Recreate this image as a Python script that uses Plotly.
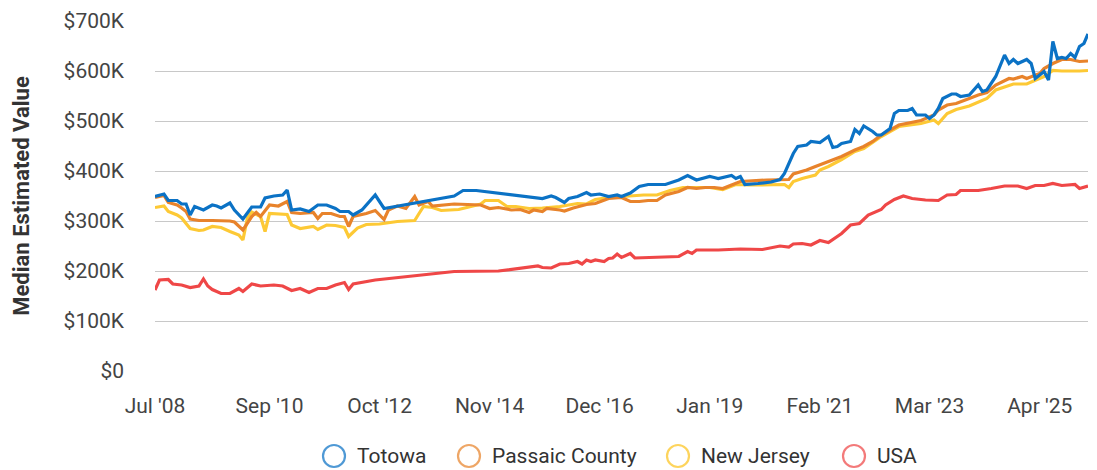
import plotly.graph_objects as go

totowa_dates = ["2008-07","2008-09","2008-10","2008-12","2009-01","2009-02","2009-03","2009-04","2009-06","2009-08",
"2009-09","2009-10","2009-12","2010-01","2010-03","2010-05","2010-07","2010-08","2010-10","2010-12",
"2011-01","2011-02","2011-04","2011-06","2011-08","2011-10","2011-12","2012-01","2012-03","2012-04",
"2012-06","2012-07","2012-09","2012-11","2013-02","2014-03","2014-05","2014-08","2015-11","2016-01",
"2016-02","2016-04","2016-05","2016-07","2016-09","2016-10","2016-12","2017-02","2017-04","2017-05",
"2017-07","2017-09","2017-11","2018-03","2018-06","2018-08","2018-10","2019-01","2019-02","2019-03",
"2019-06","2019-07","2019-08","2019-09","2019-12","2020-03","2020-05","2020-06","2020-08","2020-09",
"2020-11","2020-12","2021-02","2021-04","2021-05","2021-06","2021-07","2021-09","2021-10","2021-11",
"2021-12","2022-02","2022-03","2022-04","2022-06","2022-07","2022-08","2022-10","2022-11","2022-12",
"2023-02","2023-03","2023-04","2023-05","2023-06","2023-08","2023-09","2023-10","2023-12","2024-01",
"2024-02","2024-03","2024-04","2024-06","2024-08","2024-09","2024-10","2024-11","2025-01","2025-02",
"2025-03","2025-04","2025-05","2025-06","2025-07","2025-08","2025-09","2025-10","2025-11","2025-12",
"2026-01","2026-02","2026-03"]
totowa_values = [349,354,341,341,334,334,312,329,322,332,
330,326,336,322,304,328,328,346,350,352,
362,322,324,319,332,332,325,319,319,312,
322,332,352,325,330,350,361,361,345,350,
347,337,345,349,357,352,354,349,352,349,
356,369,373,373,382,391,382,389,387,385,
391,385,389,373,375,378,383,395,435,449,
452,459,457,469,447,449,455,459,483,475,
490,479,472,472,485,515,521,521,525,512,
512,505,512,525,545,554,554,549,552,562,
572,559,562,589,632,615,623,615,623,615,
585,592,599,582,659,625,627,625,635,627,
649,655,674]

passaic_dates = ["2008-07","2008-09","2008-10","2008-12","2009-01","2009-02","2009-03","2009-05","2009-08","2009-10",
"2009-12","2010-01","2010-02","2010-03","2010-05","2010-06","2010-07","2010-09","2010-11","2011-01",
"2011-02","2011-04","2011-07","2011-08","2011-09","2011-11","2012-01","2012-02","2012-03","2012-04",
"2012-07","2012-09","2012-11","2012-12","2013-02","2013-04","2013-06","2013-07","2013-09","2013-10",
"2014-03","2014-09","2014-11","2015-01","2015-04","2015-06","2015-08","2015-09","2015-11","2015-12",
"2016-03","2016-04","2016-06","2016-09","2016-11","2017-02","2017-05","2017-07","2017-09","2017-11",
"2018-01","2018-03","2018-06","2018-08","2018-10","2018-12","2019-02","2019-04","2019-06","2019-08",
"2020-02","2020-07","2020-08","2020-11","2021-01","2021-04","2021-07","2021-10","2021-12","2022-02",
"2022-04","2022-08","2022-10","2023-01","2023-04","2023-05","2023-07","2023-09","2023-12","2024-02",
"2024-04","2024-06","2024-09","2024-10","2024-12","2025-01","2025-04","2025-05","2025-07","2025-09",
"2025-11","2026-01","2026-03"]
passaic_values = [347,351,337,332,326,319,304,301,301,301,
300,298,289,282,309,317,309,332,330,339,
317,315,317,305,315,315,309,309,289,309,
315,321,303,322,330,325,349,332,339,330,
334,332,325,327,322,323,317,322,319,325,
322,320,326,333,335,345,347,339,339,341,
341,352,359,367,365,367,367,365,372,379,
382,383,394,402,409,419,429,442,449,459,
472,492,495,501,512,522,532,535,545,552,
557,572,585,584,589,585,595,605,615,623,
623,619,620]

nj_dates = ["2008-07","2008-09","2008-10","2008-12","2009-01","2009-03","2009-05","2009-06","2009-08","2009-10",
"2009-12","2010-02","2010-03","2010-04","2010-05","2010-07","2010-08","2010-09","2011-01","2011-02",
"2011-04","2011-07","2011-08","2011-10","2011-12","2012-02","2012-03","2012-05","2012-07","2012-10",
"2013-02","2013-06","2013-07","2013-08","2013-10","2013-12","2014-04","2014-09","2014-10","2015-01",
"2015-03","2015-05","2015-08","2015-11","2016-03","2016-07","2016-09","2016-11","2017-02","2017-07",
"2017-10","2018-01","2018-04","2018-07","2018-10","2019-01","2019-04","2019-07","2019-10","2020-06",
"2020-07","2020-08","2020-10","2021-01","2021-02","2021-04","2021-07","2021-10","2021-12","2022-02",
"2022-04","2022-08","2022-10","2023-01","2023-04","2023-05","2023-07","2023-09","2023-12","2024-02",
"2024-04","2024-06","2024-09","2024-10","2025-01","2025-03","2025-05","2025-07","2025-09","2026-01",
"2026-03"]
nj_values = [327,330,319,312,306,285,281,282,289,287,
279,272,262,306,318,309,279,315,313,292,
285,289,283,292,291,287,269,286,293,294,
299,301,315,329,327,321,323,334,341,341,
329,329,325,326,329,335,334,343,347,350,
352,352,361,367,367,367,363,373,372,373,
367,379,385,392,402,409,423,439,445,457,
469,489,492,495,502,495,515,523,530,537,
545,562,572,574,574,581,589,601,600,600,
601]

usa_dates = ["2008-07","2008-08","2008-10","2008-11","2009-01","2009-03","2009-05","2009-06","2009-07","2009-08",
"2009-10","2009-12","2010-02","2010-03","2010-05","2010-07","2010-10","2010-12","2011-02","2011-04",
"2011-06","2011-08","2011-10","2011-12","2012-02","2012-03","2012-04","2012-07","2012-09","2014-03",
"2015-01","2015-10","2015-11","2016-01","2016-03","2016-05","2016-07","2016-08","2016-09","2016-10",
"2016-11","2017-01","2017-02","2017-03","2017-04","2017-05","2017-07","2017-08","2018-06","2018-08",
"2018-09","2018-10","2019-03","2019-08","2020-01","2020-05","2020-07","2020-08","2020-10","2020-12",
"2021-02","2021-04","2021-07","2021-09","2021-11","2022-01","2022-04","2022-05","2022-07","2022-09",
"2022-11","2023-02","2023-04","2023-05","2023-07","2023-09","2023-10","2024-02","2024-05","2024-08",
"2024-11","2025-01","2025-03","2025-05","2025-07","2025-09","2025-12","2026-01","2026-03"]
usa_values = [162,182,183,174,172,167,170,184,170,163,
155,155,165,159,174,170,172,170,161,165,
157,165,165,172,177,163,174,179,182,199,
200,210,207,206,214,215,219,214,222,219,
222,219,225,226,234,227,235,226,229,239,
235,242,242,244,243,250,248,254,255,252,
261,257,275,292,295,312,323,332,343,350,
345,342,342,341,352,353,361,361,365,370,
370,365,371,371,375,371,373,365,370]

series_names = ["Totowa", "Passaic County", "New Jersey", "USA"]
series_colors = ["#0b72c5", "#e8832b", "#fdc935", "#ef4747"]
legend_colors = ["rgba(11,114,197,0.72)", "rgba(232,131,43,0.72)", "rgba(253,201,53,0.8)", "rgba(239,71,71,0.72)"]

tick_vals = ["2008-07-01", "2010-09-01", "2012-10-01", "2014-11-01", "2016-12-01",
             "2019-01-01", "2021-02-01", "2023-03-01", "2025-04-01"]
tick_text = ["Jul '08", "Sep '10", "Oct '12", "Nov '14", "Dec '16",
             "Jan '19", "Feb '21", "Mar '23", "Apr '25"]
y_tick_vals = [0, 100000, 200000, 300000, 400000, 500000, 600000, 700000]
y_tick_text = ["$0", "$100K", "$200K", "$300K", "$400K", "$500K", "$600K", "$700K"]

# page has an 8px body margin; size the figure to fill the rest of the window
OFF = 8
W, H = 1097 - OFF, 470 - OFF
ML, MR, MT, MB = 155 - OFF, 9, 21 - OFF, 99
PW, PH = W - ML - MR, H - MT - MB

fig = go.Figure()
all_dates = [totowa_dates, passaic_dates, nj_dates, usa_dates]
all_values = [totowa_values, passaic_values, nj_values, usa_values]
for i in [3, 2, 1, 0]:
    fig.add_trace(go.Scatter(
        x=[d + "-01" for d in all_dates[i]],
        y=[v * 1000 for v in all_values[i]],
        mode="lines", name=series_names[i], showlegend=False,
        line=dict(color=series_colors[i], width=3.2),
    ))

# custom legend (hollow circles + labels) below the plot, positions in page pixels
legend_circle_px = [334, 469, 678, 854]
legend_y_px = 456
for i, name in enumerate(series_names):
    xp = (legend_circle_px[i] - OFF - ML) / PW
    yp = (MT + PH - (legend_y_px - OFF)) / PH
    fig.add_shape(type="circle", xref="paper", yref="paper",
                  xsizemode="pixel", ysizemode="pixel", xanchor=xp, yanchor=yp,
                  x0=-11, x1=11, y0=-11, y1=11,
                  line=dict(color=legend_colors[i], width=2.2), fillcolor="rgba(0,0,0,0)")
    fig.add_annotation(text=name, xref="paper", yref="paper",
                       x=(legend_circle_px[i] + 21 - OFF - ML) / PW, y=yp,
                       xanchor="left", yanchor="middle", showarrow=False,
                       font=dict(size=21, color="#333"))

fig.update_layout(
    width=W, height=H,
    margin=dict(l=ML, r=MR, t=MT, b=MB, autoexpand=False),
    paper_bgcolor="white", plot_bgcolor="white",
    font=dict(family="Roboto, sans-serif", size=21, color="#444"),
    showlegend=False,
    xaxis=dict(
        type="date", range=["2008-07-01", "2026-03-01"],
        tickvals=tick_vals, ticktext=tick_text,
        showgrid=False, zeroline=False, showline=False,
        tickfont=dict(size=21, color="#444"), ticklabelstandoff=20,
    ),
    yaxis=dict(
        range=[0, 700000], tickvals=y_tick_vals, ticktext=y_tick_text,
        showgrid=True, gridcolor="#c8c8c8", gridwidth=1, zeroline=False, showline=False,
        tickfont=dict(size=21, color="#444"), ticklabelstandoff=30,
        title=dict(text="<b>Median Estimated Value</b>", font=dict(size=22, color="#333"), standoff=27),
    ),
)
fig.write_html("out.html")
